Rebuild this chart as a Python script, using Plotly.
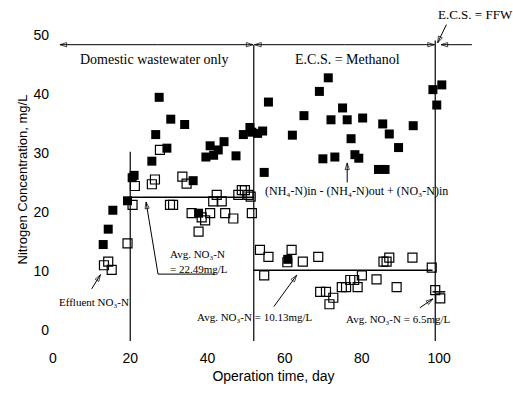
import plotly.graph_objects as go

# ---- data ----
filled_day = [13.0, 14.3, 15.5, 19.3, 20.5, 21.0, 25.6, 26.6, 27.5, 29.5, 30.5, 34.1, 36.3, 37.7,
              39.6, 40.7, 41.6, 42.8, 44.3, 47.4, 49.3, 51.0, 51.5, 53.0, 54.3, 54.7, 55.8, 60.8,
              62.0, 65.0, 69.0, 69.9, 71.3, 72.0, 73.0, 75.0, 76.2, 77.2, 78.2, 79.2, 80.2, 84.3,
              86.0, 85.4, 87.1, 89.5, 93.3, 98.4, 99.4, 100.7]
filled_val = [14.5, 17.1, 20.3, 21.9, 25.8, 26.2, 28.6, 33.1, 39.4, 30.8, 35.7, 34.8, 25.3, 19.8,
              29.3, 31.2, 29.6, 30.5, 31.9, 29.5, 33.1, 34.3, 33.5, 33.3, 33.7, 26.7, 38.6, 12.0,
              33.0, 36.3, 40.4, 29.0, 42.7, 35.6, 29.3, 37.6, 35.6, 32.4, 29.7, 29.1, 35.9, 27.2,
              27.2, 34.9, 33.2, 30.9, 34.6, 40.7, 38.1, 41.5]

open_day = [13.2, 14.3, 15.2, 19.3, 20.6, 21.2, 25.6, 26.4, 27.7, 30.3, 31.1, 33.5, 34.6, 35.9,
            37.7, 38.5, 39.4, 40.7, 41.5, 42.4, 43.7, 44.6, 46.7, 48.0, 48.9, 49.7, 50.6, 51.5,
            51.2, 53.6, 54.7, 55.8, 60.7, 61.8, 64.7, 68.7, 69.2, 70.7, 72.6, 71.6, 74.8, 75.9,
            77.0, 78.0, 78.9, 80.0, 83.8, 85.6, 86.4, 87.1, 89.0, 93.1, 98.1, 99.0, 100.3]
open_val = [11.0, 11.6, 10.2, 14.7, 21.2, 24.4, 24.7, 25.5, 30.5, 21.2, 21.2, 26.0, 24.8, 19.8,
            16.7, 19.1, 18.6, 19.8, 21.8, 22.9, 21.8, 19.8, 18.9, 22.9, 23.7, 23.7, 22.9, 19.8,
            22.6, 13.6, 9.3, 12.4, 11.5, 13.6, 11.6, 12.4, 6.5, 6.5, 5.5, 4.4, 7.3, 7.3,
            8.5, 8.5, 7.3, 9.3, 8.6, 11.6, 11.6, 12.3, 7.3, 12.3, 10.6, 6.8, 5.4]

phase_days = [20, 52, 99]          # phase boundaries
avg_start = [20, 52, 98.3]
avg_end = [52, 98.3, 101.6]
avg_vals = [22.49, 10.13, 6.5]

x_ticks = [0, 20, 40, 60, 80, 100]
y_ticks = [0, 10, 20, 30, 40, 50]

SERIF = "Liberation Serif, DejaVu Serif, Times New Roman, serif"
SANS = "Liberation Sans, Arial, sans-serif"

fig = go.Figure()

fig.add_trace(go.Scatter(x=open_day, y=open_val, mode="markers", cliponaxis=False,
                         marker=dict(symbol="square-open", size=9, color="black",
                                     line=dict(width=1.2, color="black")),
                         showlegend=False))
fig.add_trace(go.Scatter(x=filled_day, y=filled_val, mode="markers", cliponaxis=False,
                         marker=dict(symbol="square", size=9, color="black"),
                         showlegend=False))

# average lines
for s, e, v in zip(avg_start, avg_end, avg_vals):
    fig.add_trace(go.Scatter(x=[s, e], y=[v, v], mode="lines", cliponaxis=False,
                             line=dict(color="black", width=1.5), showlegend=False))

# phase boundary lines
vtops = [30.2, 48.3, 49.0]
for d, top in zip(phase_days, vtops):
    fig.add_shape(type="line", xref="x", yref="y", x0=d, x1=d, y0=-1.8, y1=top,
                  line=dict(color="black", width=1.2))


def arrow(xs, ys):
    """polyline ending in an open arrow head at the last point"""
    n = len(xs)
    fig.add_trace(go.Scatter(
        x=xs, y=ys, mode="lines+markers", cliponaxis=False, showlegend=False,
        hoverinfo="skip", line=dict(color="black", width=1),
        marker=dict(symbol=["line-ew"] * (n - 1) + ["arrow-open"],
                    size=[0] * (n - 1) + [7], angleref="previous", color="black",
                    line=dict(color="black", width=1))))


ann = []
def text(x, y, t, size=12, xanchor="center", font=SERIF):
    ann.append(dict(x=x, y=y, xref="x", yref="y", text=t, showarrow=False, xanchor=xanchor,
                    yanchor="middle", font=dict(family=font, size=size, color="black")))

# phase arrows (double headed)
arrow([27.0, 1.8], [48.3, 48.3])
arrow([27.0, 51.8], [48.3, 48.3])
arrow([75.5, 52.2], [48.3, 48.3])
arrow([75.5, 98.8], [48.3, 48.3])
arrow([108.5, 100.5], [48.3, 48.3])
arrow([101.9, 99.6], [51.7, 48.6])

text(26.4, 45.8, "Domestic wastewater only", 14)
text(76.4, 45.8, "E.C.S. = Methanol", 14)
text(109.5, 53.4, "E.C.S. = FFW", 13)

text(54.4, 23.6, "(NH₄-N)in - (NH₄-N)out + (NO₃-N)in", 12, "left")
arrow([76.2, 76.2], [25.0, 28.3])

text(29.8, 12.9, "Avg. NO₃-N", 11, "left")
text(29.8, 10.4, "= 22.49mg/L", 11, "left")
arrow([42.0, 27.2, 24.1], [9.5, 9.5, 21.7])

text(10.6, 4.7, "Effluent NO₃-N", 11, "center")
arrow([10.0, 12.3], [7.0, 9.4])

text(36.8, 2.3, "Avg. NO₃-N = 10.13mg/L", 11, "left")
arrow([57.2, 63.1], [4.0, 9.3])

text(89.5, 1.9, "Avg. NO₃-N = 6.5mg/L", 11, "center")
arrow([95.0, 98.4], [3.8, 5.3])

fig.update_layout(
    width=513, height=394,
    margin=dict(l=50, r=16, t=11, b=46),
    paper_bgcolor="white", plot_bgcolor="white",
    annotations=ann,
    xaxis=dict(range=[-0.78, 115], tickvals=x_ticks, showgrid=False, zeroline=False,
               showline=False, ticks="", tickfont=dict(family=SANS, size=14, color="black"),
               title=dict(text="Operation time, day", standoff=6,
                          font=dict(family=SANS, size=14, color="black"))),
    yaxis=dict(range=[-3, 54], tickvals=y_ticks, showgrid=False, zeroline=False,
               showline=False, ticks="", tickfont=dict(family=SANS, size=14, color="black"),
               title=dict(text="Nitrogen Concentration, mg/L", standoff=2,
                          font=dict(family=SANS, size=13, color="black"))),
)

fig.write_html("out.html")
